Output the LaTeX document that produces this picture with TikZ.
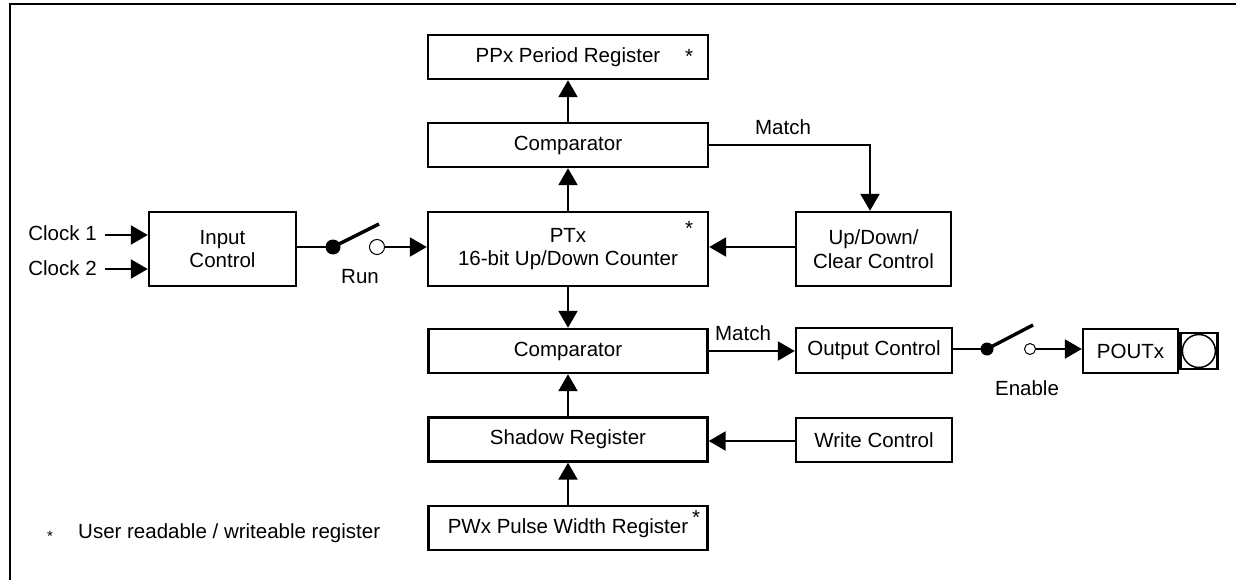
\documentclass[tikz,border=0pt]{standalone}
\usepackage{fontspec}
\setmainfont{Liberation Sans}
\usetikzlibrary{arrows.meta}
\begin{document}
\begin{tikzpicture}[x=1pt,y=-1pt,
  every node/.style={font=\fontsize{20.5}{23.5}\selectfont, inner sep=0pt},
  blk/.style={draw, line width=2.4pt, rectangle, align=center},
  arr/.style={line width=2.2pt, -{Triangle[length=17pt,width=19pt]}},
  ln/.style={line width=2.2pt},
  lever/.style={line width=3.4pt},
  dotc/.style={circle, fill=black, minimum size=#1, inner sep=0pt},
  opc/.style={circle, draw, line width=1pt, fill=white, minimum size=#1, inner sep=0pt}
]
\useasboundingbox (0,0) rectangle (1236,580);
\draw[line width=2.6pt] (10,580) -- (10,4) -- (1236,4);

% blocks
\node[blk, minimum width=280, minimum height=44] (ppx) at (568,57) {PPx Period Register};
\node at (689,56) {*};
\node[blk, minimum width=280, minimum height=44] (cmp1) at (568,145) {Comparator};
\node[blk, minimum width=280, minimum height=74] (ptx) at (568,249) {PTx\\16-bit Up/Down Counter};
\node at (689,228) {*};
\node[blk, minimum width=147, minimum height=74] (inp) at (222.5,249) {Input\\Control};
\node[blk, minimum width=155, minimum height=74] (upd) at (873.5,249) {Up/Down/\\Clear Control};
\node[blk, minimum width=279, minimum height=44] (cmp2) at (568,351) {Comparator};
\node[blk, minimum width=279, minimum height=44] (shd) at (568,439.5) {Shadow Register};
\node[blk, minimum width=279, minimum height=44] (pwx) at (568,528) {PWx Pulse Width Register};
\node at (696,517) {*};
\node[blk, minimum width=156, minimum height=45] (outc) at (874,350.5) {Output Control};
\node[blk, minimum width=156, minimum height=44] (wrc) at (874,440) {Write Control};
\node[blk, minimum width=95, minimum height=44] (pout) at (1130.5,351) {POUTx};
\node[blk, minimum width=37, minimum height=36, anchor=west] (sq) at (pout.east) {};
\node[circle, draw, line width=1.5pt, minimum size=33] (pad) at (sq.center) {};

% clocks
\node (c1) at (62.5,233) {Clock 1};
\node (c2) at (62.5,268) {Clock 2};
\coordinate (c1s) at (105,235);
\coordinate (c2s) at (105,269);
\draw[arr] (c1s) -- (c1s -| inp.west);
\draw[arr] (c2s) -- (c2s -| inp.west);

% run switch
\node[dotc=15] (rd) at (333,247) {};
\node[opc=15] (ro) at (377,247) {};
\coordinate (rl) at (379,224);
\draw[ln] (inp.east |- rd) -- (rd.center);
\draw[lever] (rd.center) -- (rl);
\draw[arr] (ro.east) -- (ro.east -| ptx.west);
\node (run) at (360,277) {Run};

% vertical links
\draw[arr] (cmp1.north) -- (ppx.south);
\draw[arr] (ptx.north) -- (cmp1.south);
\draw[arr] (ptx.south) -- (cmp2.north);
\draw[arr] (shd.north) -- (cmp2.south);
\draw[arr] (pwx.north) -- (shd.south);

% match top
\coordinate (mc) at (870,145);
\draw[arr] (cmp1.east) -- (mc) -- (mc |- upd.north);
\node (m1) at (783,127) {Match};
\draw[arr] (upd.west |- 0,247) -- (ptx.east |- 0,247);

% match bottom
\draw[arr] (cmp2.east) -- (outc.west |- cmp2.east);
\node (m2) at (743,333) {Match};
\draw[arr] (wrc.west |- 0,441) -- (shd.east |- 0,441);

% enable switch
\node[dotc=13] (ed) at (987,349) {};
\node[opc=11] (eo) at (1030,349) {};
\coordinate (el) at (1033,325);
\draw[ln] (outc.east |- ed) -- (ed.center);
\draw[lever] (ed.center) -- (el);
\draw[arr] (eo.east) -- (eo.east -| pout.west);
\node (en) at (1027,388) {Enable};

% legend
\node[font=\fontsize{15}{15}\selectfont] (ls) at (50,536) {*};
\node[anchor=west] (lt) at (78,533) {User readable / writeable register};
\end{tikzpicture}
\end{document}
